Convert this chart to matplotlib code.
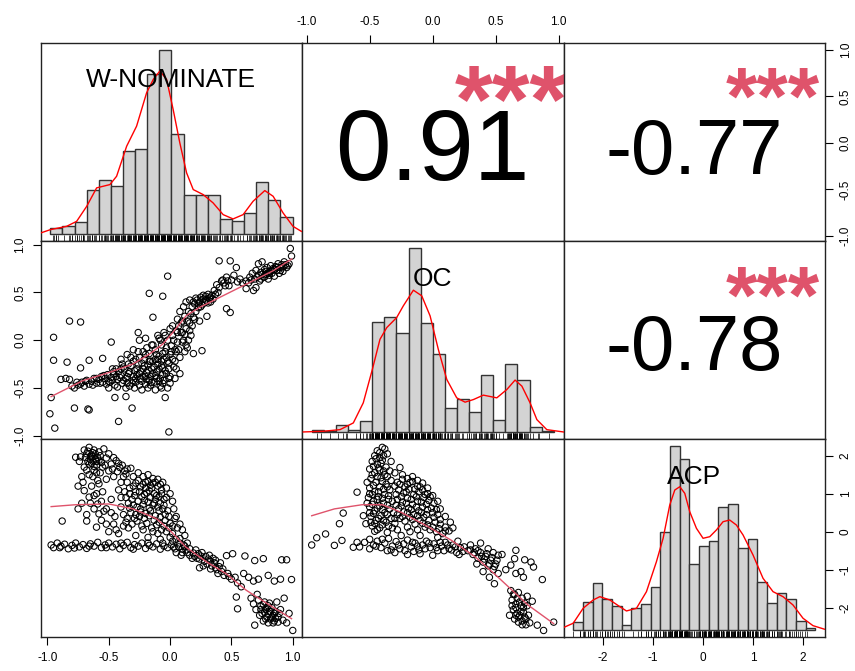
"""
Correlation matrix of three ideal-point estimates (W-NOMINATE, OC, ACP):
histograms with density on the diagonal, scatter + smoother below,
correlation coefficients with significance stars above.
"""

import matplotlib.pyplot as plt


plt.rcParams["font.family"] = ["Liberation Sans", "DejaVu Sans"]

# ---------------------------------------------------------------- data
var_names = ["W-NOMINATE", "OC", "ACP"]
corr_labels = {(0, 1): "0.91", (0, 2): "-0.77", (1, 2): "-0.78"}
signif = "***"

# histogram breaks and bar heights
w_breaks = [-1.0, -0.9, -0.8, -0.7, -0.6, -0.5, -0.4, -0.3, -0.2, -0.1, 0.0,
            0.1, 0.2, 0.3, 0.4, 0.5, 0.6, 0.7, 0.8, 0.9, 1.0]
w_heights = [5.7, 7.3, 11.3, 43.7, 54, 48, 83, 84.3, 159, 183.3,
             99, 38.7, 38.7, 38.7, 15, 13, 20.7, 51.7, 33.3, 16.7]
oc_breaks = [-1.0, -0.9, -0.8, -0.7, -0.6, -0.5, -0.4, -0.3, -0.2, -0.1, 0.0,
             0.1, 0.2, 0.3, 0.4, 0.5, 0.6, 0.7, 0.8, 0.9, 1.0]
oc_heights = [2, 1.3, 7, 2.3, 10.7, 110, 115, 99, 183, 109,
              77.3, 24.3, 33, 19.7, 56.7, 12, 67.7, 51.3, 5.3, 1.3]
acp_breaks = [-2.6, -2.4, -2.2, -2.0, -1.8, -1.6, -1.4, -1.2, -1.0, -0.8, -0.6,
              -0.4, -0.2, 0.0, 0.2, 0.4, 0.6, 0.8, 1.0, 1.2, 1.4, 1.6, 1.8,
              2.0, 2.2, 2.4]
acp_heights = [7.7, 28, 46.7, 31.3, 24, 5.3, 22.3, 26, 42.7, 98.3, 183.7,
               171, 65.7, 84, 89.3, 122.7, 126, 81.7, 91, 48.3, 26.7, 37.3,
               31.3, 9.3, 2.3]

# density curves (x, height in the same units as the bars)
w_dens_x = [-1.08, -1.0, -0.866, -0.783, -0.70, -0.618, -0.508, -0.453, -0.37,
            -0.288, -0.205, -0.15, -0.096, -0.04, 0.014, 0.069, 0.125, 0.18,
            0.262, 0.344, 0.427, 0.509, 0.592, 0.674, 0.771, 0.84, 0.922,
            1.004, 1.073]
w_dens_y = [0.7, 4, 7.3, 12.3, 27.3, 45.7, 49, 57.3, 87.3, 107.3, 140.7, 154,
            162.3, 154, 124, 90.7, 60.7, 44, 39, 30.7, 19, 14.7, 19, 32.3, 43,
            37.3, 20.7, 7.3, 2.3]
oc_dens_x = [-1.069, -0.904, -0.766, -0.656, -0.574, -0.499, -0.436, -0.38,
             -0.298, -0.243, -0.16, -0.091, -0.022, 0.046, 0.116, 0.198, 0.267,
             0.336, 0.418, 0.529, 0.612, 0.68, 0.736, 0.804, 0.86, 0.942, 1.079]
oc_dens_y = [0, 0.7, 2.3, 9, 29, 62.3, 92.3, 104, 114, 125.7, 141.3, 135.7,
             115.7, 82.3, 52.3, 34, 29.7, 32.3, 36.7, 34, 42.3, 51.7, 45.7, 29,
             12.3, 2.3, 0]
acp_dens_x = [-2.806, -2.6, -2.394, -2.187, -2.05, -1.843, -1.637, -1.5, -1.293,
              -1.087, -0.881, -0.743, -0.606, -0.502, -0.399, -0.296, -0.193,
              -0.055, 0.082, 0.22, 0.357, 0.495, 0.632, 0.77, 0.908, 1.114,
              1.32, 1.527, 1.733, 1.939, 2.146, 2.352, 2.593]
acp_dens_y = [2.3, 6.7, 21.7, 30, 33.3, 30, 23.3, 19, 21.7, 38.3, 68.3, 91.7,
              125, 140, 143.3, 136.7, 118.3, 101.7, 91.7, 93.3, 100, 108.3, 110,
              105, 95, 75, 51.7, 38.3, 33.3, 25, 11.7, 4.3, 0.7]

# scatter points: (W-NOMINATE, OC)
w_oc_points = [
    (-0.98, -0.77), (-0.94, -0.92), (-0.97, -0.60), (-0.95, 0.03), (-0.95, -0.21),
    (-0.82, 0.20), (-0.73, 0.19), (-0.84, -0.23), (-0.89, -0.41), (-0.85, -0.40),
    (-0.82, -0.41), (-0.73, -0.29), (-0.66, -0.21), (-0.78, -0.71), (-0.67, -0.72),
    (-0.66, -0.73), (-0.55, -0.19), (-0.48, -0.02), (-0.42, -0.85), (-0.31, -0.71),
    (-0.45, -0.60), (-0.36, -0.59), (-0.04, -0.60), (-0.01, -0.96), (-0.02, 0.67),
    (-0.17, 0.49), (-0.06, 0.46), (-0.14, 0.24), (-0.26, 0.08),
    (-0.78, -0.50), (-0.75, -0.47), (-0.72, -0.44), (-0.70, -0.48), (-0.68, -0.42),
    (-0.66, -0.46), (-0.64, -0.43), (-0.62, -0.40), (-0.60, -0.45), (-0.58, -0.41),
    (-0.56, -0.38), (-0.55, -0.44), (-0.53, -0.40), (-0.51, -0.36), (-0.50, -0.43),
    (-0.48, -0.39), (-0.46, -0.35), (-0.45, -0.47), (-0.43, -0.41), (-0.42, -0.33),
    (-0.40, -0.37), (-0.39, -0.45), (-0.37, -0.30), (-0.36, -0.40), (-0.34, -0.35),
    (-0.33, -0.48), (-0.32, -0.27), (-0.30, -0.38), (-0.29, -0.32), (-0.28, -0.44),
    (-0.26, -0.25), (-0.25, -0.35), (-0.24, -0.40), (-0.22, -0.30), (-0.21, -0.20),
    (-0.20, -0.46), (-0.19, -0.34), (-0.18, -0.26), (-0.17, -0.14), (-0.16, -0.38),
    (-0.15, -0.30), (-0.14, -0.22), (-0.13, -0.44), (-0.12, -0.10), (-0.11, -0.33),
    (-0.10, -0.25), (-0.09, -0.17), (-0.08, -0.40), (-0.07, -0.05), (-0.06, -0.29),
    (-0.05, -0.20), (-0.04, -0.12), (-0.03, -0.35), (-0.02, 0.00), (-0.01, -0.24),
    (0.00, -0.15), (0.01, -0.06), (0.02, 0.05), (0.03, -0.28), (0.04, -0.10),
    (0.05, 0.10), (0.06, -0.02), (0.07, 0.15), (0.08, -0.18), (0.09, 0.08),
    (0.10, 0.20), (0.11, 0.00), (0.12, 0.25), (0.13, 0.12), (0.14, -0.08),
    (0.15, 0.30), (0.16, 0.18), (0.17, 0.05), (0.18, 0.35), (0.19, 0.24),
    (0.20, 0.38), (0.21, 0.30), (0.22, 0.42), (0.23, 0.34), (0.24, 0.40),
    (0.25, 0.45), (0.26, 0.37), (0.27, 0.43), (0.28, 0.39), (0.29, 0.46),
    (0.30, 0.41), (0.31, 0.48), (0.32, 0.44), (0.33, 0.40), (0.34, 0.47),
    (0.36, 0.52), (0.38, 0.58), (0.40, 0.55), (0.42, 0.62), (0.44, 0.60),
    (0.46, 0.66), (0.48, 0.57), (0.50, 0.63), (0.52, 0.68), (0.55, 0.61),
    (0.40, 0.83), (0.49, 0.83), (0.54, 0.76), (0.49, 0.29), (0.46, 0.33),
    (0.26, -0.11), (0.19, -0.14), (0.13, -0.05), (0.24, 0.20), (0.30, 0.25),
    (0.62, 0.62), (0.65, 0.66), (0.67, 0.70), (0.69, 0.64), (0.70, 0.73),
    (0.72, 0.68), (0.73, 0.62), (0.74, 0.71), (0.76, 0.66), (0.77, 0.74),
    (0.78, 0.69), (0.79, 0.76), (0.80, 0.64), (0.81, 0.72), (0.82, 0.78),
    (0.83, 0.70), (0.84, 0.75), (0.85, 0.67), (0.86, 0.77), (0.87, 0.73),
    (0.88, 0.80), (0.89, 0.70), (0.90, 0.76), (0.91, 0.79), (0.92, 0.72),
    (0.93, 0.82), (0.95, 0.76), (0.97, 0.80), (0.98, 0.96), (0.99, 0.88),
    (0.75, 0.82), (0.72, 0.80), (0.70, 0.55), (0.68, 0.52), (0.62, 0.54),
    (-0.35, -0.45), (-0.30, -0.42), (-0.27, -0.36), (-0.23, -0.43), (-0.20, -0.38),
    (-0.17, -0.42), (-0.14, -0.35), (-0.11, -0.40), (-0.09, -0.30), (-0.06, -0.36),
    (-0.03, -0.18), (-0.01, -0.30), (0.02, -0.20), (-0.19, -0.08), (-0.25, -0.18),
    (-0.30, -0.22), (-0.38, -0.28), (-0.44, -0.30), (-0.10, 0.05), (-0.05, 0.08),
    (0.00, 0.12),
]
w_oc_points_dense = [
    (-0.52, -0.46), (-0.49, -0.44), (-0.47, -0.42), (-0.44, -0.38), (-0.41, -0.39),
    (-0.38, -0.42), (-0.35, -0.38), (-0.33, -0.33), (-0.31, -0.45), (-0.28, -0.40),
    (-0.27, -0.30), (-0.24, -0.33), (-0.22, -0.38), (-0.21, -0.27), (-0.19, -0.41),
    (-0.18, -0.31), (-0.16, -0.22), (-0.15, -0.44), (-0.13, -0.28), (-0.12, -0.37),
    (-0.10, -0.20), (-0.09, -0.43), (-0.07, -0.27), (-0.06, -0.14), (-0.04, -0.32),
    (-0.03, -0.08), (-0.02, -0.22), (0.00, -0.38), (0.01, -0.12), (0.03, 0.00),
    (0.04, -0.22), (0.06, 0.08), (0.07, -0.10), (0.09, 0.18), (0.10, -0.02),
    (0.12, 0.06), (0.14, 0.20), (0.16, 0.10), (0.17, 0.28), (0.19, 0.40),
    (0.21, 0.44), (0.23, 0.38), (0.25, 0.35), (0.27, 0.47), (0.29, 0.42),
    (0.31, 0.39), (0.33, 0.45), (0.35, 0.43), (0.37, 0.48), (0.39, 0.50),
    (-0.60, -0.40), (-0.57, -0.45), (-0.54, -0.37), (-0.63, -0.47), (-0.69, -0.43),
    (-0.73, -0.46), (-0.76, -0.44), (-0.80, -0.48), (-0.25, -0.47), (-0.16, -0.47),
    (-0.08, -0.48), (-0.11, -0.15), (-0.14, -0.05), (-0.08, 0.00), (-0.22, -0.12),
    (-0.28, -0.20), (-0.34, -0.25), (-0.40, -0.30), (-0.46, -0.33), (-0.06, -0.45),
    (0.00, -0.45), (0.05, -0.30), (0.08, -0.35), (-0.20, 0.02),
    (0.64, 0.60), (0.66, 0.63), (0.71, 0.66), (0.75, 0.69), (0.78, 0.72),
    (0.80, 0.70), (0.83, 0.73), (0.85, 0.74), (0.87, 0.76), (0.90, 0.73),
    (0.92, 0.77), (0.94, 0.79), (0.96, 0.78), (0.74, 0.64), (0.77, 0.66),
    (0.81, 0.68), (0.57, 0.64), (0.59, 0.60), (0.45, 0.57), (0.43, 0.63),
    (0.47, 0.62),
    (-0.50, -0.50), (-0.47, -0.30), (-0.43, -0.49), (-0.39, -0.25), (-0.36, -0.50),
    (-0.32, -0.18), (-0.29, -0.50), (-0.26, -0.12), (-0.23, -0.52), (-0.20, -0.15),
    (-0.18, -0.50), (-0.15, -0.05), (-0.12, -0.52), (-0.09, 0.02), (-0.07, -0.50),
    (-0.04, 0.05), (-0.02, -0.50), (0.02, 0.15), (0.04, -0.40), (0.06, 0.22),
    (0.08, 0.30), (0.11, 0.35), (0.13, 0.40), (0.16, 0.42), (-0.25, 0.00),
    (-0.30, -0.10), (-0.35, -0.15), (-0.40, -0.20), (-0.12, -0.20), (-0.17, -0.22),
    (-0.23, -0.24), (-0.07, -0.22), (-0.05, -0.42), (-0.01, -0.40), (0.05, -0.12),
    (0.10, 0.08), (0.12, -0.12), (0.15, 0.00), (0.18, 0.15), (0.20, 0.22),
]

# scatter points: (W-NOMINATE, ACP)
w_acp_points = [
    (-0.77, 1.96), (-0.73, 1.97), (-0.66, 2.22), (-0.62, 2.15), (-0.54, 2.18),
    (-0.52, 1.94), (-0.44, 1.87), (-0.41, 1.69), (-0.32, 1.67), (-0.36, 1.52),
    (-0.68, 2.05), (-0.65, 1.98), (-0.63, 2.08), (-0.61, 1.92), (-0.67, 1.85),
    (-0.64, 1.80), (-0.60, 1.75), (-0.58, 1.88), (-0.70, 1.70), (-0.62, 1.62),
    (-0.57, 1.55), (-0.55, 1.70), (-0.50, 1.60), (-0.48, 1.78), (-0.46, 1.45),
    (-0.52, 1.38), (-0.59, 1.35), (-0.66, 1.50), (-0.71, 1.30), (-0.64, 1.20),
    (-0.58, 1.26), (-0.70, 1.08), (-0.66, 0.91), (-0.75, 0.60), (-0.88, 0.28),
    (-0.68, 0.28), (-0.58, 0.47), (-0.54, 0.54), (-0.59, 0.73), (-0.60, 0.12),
    (-0.72, 0.75), (-0.62, 0.95), (-0.55, 1.05), (-0.68, 0.45), (-0.52, 0.20),
    (-0.48, 0.85), (-0.45, 0.40), (-0.42, 1.10), (-0.40, 0.65), (-0.44, 0.05),
    (-0.35, 1.30), (-0.30, 1.20), (-0.26, 1.35), (-0.22, 1.25), (-0.18, 1.32),
    (-0.14, 1.28), (-0.10, 1.20), (-0.07, 1.10), (-0.33, 1.00), (-0.29, 0.95),
    (-0.25, 1.05), (-0.21, 0.98), (-0.17, 1.08), (-0.13, 1.00), (-0.09, 0.92),
    (-0.05, 0.85), (-0.34, 0.75), (-0.30, 0.70), (-0.26, 0.80), (-0.22, 0.72),
    (-0.18, 0.78), (-0.14, 0.70), (-0.10, 0.65), (-0.06, 0.60), (-0.02, 0.55),
    (-0.32, 0.50), (-0.28, 0.45), (-0.24, 0.52), (-0.20, 0.48), (-0.16, 0.55),
    (-0.12, 0.42), (-0.08, 0.38), (-0.04, 0.30), (0.00, 0.22), (-0.36, 0.25),
    (-0.31, 0.20), (-0.27, 0.28), (-0.23, 0.15), (-0.19, 0.22), (-0.15, 0.10),
    (-0.11, 0.18), (-0.07, 0.05), (-0.03, 0.00), (0.02, -0.05), (-0.20, 1.15),
    (-0.16, 0.90), (-0.12, 0.85), (-0.24, 0.60), (-0.08, 0.75), (-0.04, 0.45),
    (-0.97, -0.35), (-0.95, -0.42), (-0.92, -0.30), (-0.89, -0.38), (-0.86, -0.33),
    (-0.83, -0.45), (-0.80, -0.36), (-0.77, -0.30), (-0.74, -0.40), (-0.71, -0.34),
    (-0.68, -0.44), (-0.65, -0.32), (-0.62, -0.38), (-0.59, -0.28), (-0.56, -0.42),
    (-0.53, -0.35), (-0.50, -0.30), (-0.47, -0.40), (-0.44, -0.33), (-0.41, -0.45),
    (-0.38, -0.36), (-0.35, -0.28), (-0.32, -0.42), (-0.29, -0.34), (-0.26, -0.38),
    (-0.23, -0.30), (-0.20, -0.44), (-0.17, -0.36), (-0.14, -0.40), (-0.11, -0.32),
    (-0.08, -0.46), (-0.05, -0.38), (-0.02, -0.42), (0.01, -0.35),
    (0.04, -0.45), (0.07, -0.40), (0.10, -0.55), (0.13, -0.48), (0.16, -0.62),
    (0.19, -0.56), (0.22, -0.70), (0.25, -0.64), (0.28, -0.78), (0.31, -0.72),
    (0.34, -0.90), (0.36, -0.82), (0.38, -1.00), (0.40, -0.92), (0.42, -1.05),
    (0.44, -1.15), (0.47, -1.10), (0.50, -1.25), (0.53, -1.20), (0.55, -1.35),
    (0.46, -0.63), (0.51, -0.58), (0.61, -0.64), (0.69, -0.76), (0.76, -0.71),
    (0.91, -0.74), (0.95, -0.74), (0.99, -1.26), (0.60, -1.10), (0.64, -1.20),
    (0.68, -1.30), (0.72, -1.25), (0.80, -1.15), (0.85, -1.30), (0.90, -1.25),
    (0.58, -1.45), (0.54, -1.72), (0.55, -2.03),
    (0.66, -1.75), (0.68, -1.90), (0.70, -2.05), (0.72, -1.80), (0.74, -1.95),
    (0.75, -2.15), (0.77, -1.85), (0.78, -2.05), (0.79, -2.25), (0.80, -1.95),
    (0.81, -2.10), (0.82, -2.30), (0.83, -2.00), (0.84, -2.20), (0.85, -2.35),
    (0.86, -2.10), (0.88, -2.25), (0.90, -2.05), (0.92, -2.33), (0.76, -2.35),
    (0.73, -2.20), (0.69, -2.46), (1.00, -2.60), (0.95, -2.40), (0.97, -2.15),
    (0.71, -1.65), (0.87, -1.85), (0.93, -1.75),
]
w_acp_points_dense = [
    (-0.69, 1.95), (-0.67, 2.12), (-0.65, 1.90), (-0.63, 1.97), (-0.61, 2.05),
    (-0.60, 1.85), (-0.64, 2.02), (-0.66, 1.78), (-0.62, 1.72), (-0.59, 1.95),
    (-0.57, 2.00), (-0.56, 1.82), (-0.53, 1.75), (-0.68, 1.62), (-0.63, 1.45),
    (-0.60, 1.55), (-0.47, 1.65), (-0.43, 1.58), (-0.39, 1.75), (-0.37, 1.60),
    (-0.33, 1.15), (-0.28, 1.28), (-0.24, 1.18), (-0.20, 1.30), (-0.16, 1.22),
    (-0.12, 1.30), (-0.08, 1.25), (-0.28, 1.05), (-0.23, 0.92), (-0.19, 1.02),
    (-0.15, 1.15), (-0.11, 0.95), (-0.07, 1.00), (-0.03, 0.90), (-0.31, 0.85),
    (-0.27, 0.65), (-0.21, 0.82), (-0.17, 0.62), (-0.13, 0.75), (-0.09, 0.55),
    (-0.05, 0.70), (-0.01, 0.40), (-0.29, 0.35), (-0.25, 0.40), (-0.21, 0.35),
    (-0.17, 0.42), (-0.13, 0.30), (-0.09, 0.25), (-0.05, 0.15), (-0.01, 0.10),
    (-0.34, 0.10), (-0.22, 0.05), (-0.14, 0.00), (-0.10, -0.05), (0.02, 0.15),
    (0.00, -0.15), (0.05, -0.20), (-0.38, 0.45), (-0.36, 0.90), (-0.40, 1.30),
    (-0.90, -0.42), (-0.78, -0.43), (-0.66, -0.38), (-0.52, -0.42), (-0.40, -0.30),
    (-0.30, -0.46), (-0.18, -0.30), (-0.06, -0.30), (0.03, -0.40), (0.10, -0.45),
    (0.14, -0.55), (0.20, -0.65), (0.24, -0.72), (0.30, -0.85), (0.33, -0.78),
    (0.37, -0.95), (0.43, -0.98), (0.48, -1.18),
    (0.74, -2.05), (0.77, -2.12), (0.79, -2.00), (0.80, -2.18), (0.82, -2.10),
    (0.83, -2.25), (0.85, -2.15), (0.86, -2.28), (0.78, -2.30), (0.76, -1.92),
    (0.81, -1.88), (0.84, -2.40), (0.88, -2.38), (0.89, -2.15), (0.80, -2.40),
    (-0.75, 1.20), (-0.72, 1.45), (-0.74, 1.85), (-0.70, 2.15), (-0.58, 2.10),
    (-0.50, 2.05), (-0.46, 1.95), (-0.42, 1.80), (-0.38, 1.45), (-0.35, 1.65),
    (-0.30, 1.45), (-0.26, 1.55), (-0.22, 1.45), (-0.18, 1.50), (-0.14, 1.40),
    (-0.10, 1.38), (-0.06, 1.30), (-0.03, 1.15), (0.00, 1.00), (0.02, 0.80),
    (0.03, 0.60), (0.04, 0.35), (0.06, 0.10), (-0.37, 1.05), (-0.33, 0.62),
    (-0.35, 0.35), (-0.38, 0.15), (-0.42, -0.05), (-0.50, 0.00), (-0.56, 0.30),
    (-0.62, 0.60), (-0.65, 0.75), (-0.60, 1.00), (-0.56, 0.80), (-0.52, 0.60),
    (-0.48, 0.50), (-0.46, 0.20), (-0.40, 0.90), (-0.28, -0.10), (-0.18, -0.15),
    (-0.08, -0.20), (0.08, -0.30), (0.12, -0.38),
    (0.02, -0.25), (0.05, -0.55), (0.08, -0.18), (0.11, -0.35), (0.14, -0.30),
    (0.16, -0.45), (0.18, -0.70), (0.21, -0.48), (0.23, -0.58), (0.26, -0.55),
    (0.27, -0.90), (0.29, -0.65), (0.32, -0.62), (0.33, -0.98), (0.35, -0.70),
    (0.37, -0.75), (0.39, -1.10), (0.41, -0.82), (0.05, 0.40), (0.08, 0.20),
    (0.10, 0.05), (0.12, -0.10), (0.09, -0.62), (0.24, -0.95),
]

# scatter points: (OC, ACP)
oc_acp_points = [
    (-0.40, 2.22), (-0.44, 2.13), (-0.38, 2.18), (-0.46, 2.00), (-0.42, 1.95),
    (-0.36, 2.05), (-0.48, 1.85), (-0.44, 1.78), (-0.40, 1.88), (-0.37, 1.70),
    (-0.50, 1.65), (-0.46, 1.55), (-0.42, 1.62), (-0.38, 1.50), (-0.34, 1.60),
    (-0.49, 1.40), (-0.45, 1.30), (-0.41, 1.42), (-0.37, 1.25), (-0.33, 1.35),
    (-0.50, 1.15), (-0.46, 1.05), (-0.42, 1.18), (-0.38, 0.98), (-0.34, 1.10),
    (-0.51, 0.90), (-0.47, 0.80), (-0.43, 0.92), (-0.39, 0.75), (-0.35, 0.85),
    (-0.50, 0.65), (-0.46, 0.55), (-0.42, 0.68), (-0.38, 0.50), (-0.34, 0.60),
    (-0.49, 0.40), (-0.45, 0.30), (-0.41, 0.42), (-0.37, 0.25), (-0.33, 0.35),
    (-0.48, 0.15), (-0.44, 0.05), (-0.40, 0.18), (-0.36, -0.02), (-0.32, 0.10),
    (-0.26, 1.69), (-0.16, 1.45), (-0.28, 1.30), (-0.24, 1.38), (-0.20, 1.25),
    (-0.16, 1.32), (-0.12, 1.20), (-0.08, 1.10), (-0.04, 1.00), (-0.27, 1.10),
    (-0.23, 1.02), (-0.19, 1.12), (-0.15, 0.98), (-0.11, 1.05), (-0.07, 0.90),
    (-0.03, 0.82), (0.01, 0.75), (-0.28, 0.85), (-0.24, 0.78), (-0.20, 0.88),
    (-0.16, 0.72), (-0.12, 0.80), (-0.08, 0.65), (-0.04, 0.58), (0.00, 0.50),
    (0.04, 0.45), (-0.27, 0.60), (-0.23, 0.52), (-0.19, 0.62), (-0.15, 0.45),
    (-0.11, 0.55), (-0.07, 0.38), (-0.03, 0.30), (0.02, 0.25), (0.06, 0.20),
    (0.10, 0.12), (-0.26, 0.35), (-0.22, 0.28), (-0.18, 0.38), (-0.14, 0.20),
    (-0.10, 0.30), (-0.06, 0.12), (-0.02, 0.05), (0.03, 0.00), (0.08, -0.05),
    (0.13, 0.02),
    (-0.78, -0.36), (-0.72, -0.23), (-0.63, -0.41), (-0.60, -0.28), (-0.54, -0.28),
    (-0.50, -0.20), (-0.47, -0.35), (-0.44, -0.25), (-0.41, -0.42), (-0.38, -0.30),
    (-0.35, -0.18), (-0.32, -0.38), (-0.29, -0.26), (-0.26, -0.45), (-0.23, -0.32),
    (-0.20, -0.22), (-0.17, -0.40), (-0.14, -0.30), (-0.11, -0.48), (-0.08, -0.35),
    (-0.05, -0.25), (-0.02, -0.42), (0.01, -0.32), (0.04, -0.50), (0.07, -0.38),
    (0.10, -0.28), (0.13, -0.45), (0.16, -0.35), (0.19, -0.55), (0.22, -0.42),
    (-0.30, -0.55), (-0.20, -0.60), (-0.10, -0.58), (0.00, -0.62),
    (-0.96, -0.35), (-0.92, -0.16), (-0.85, -0.06), (-0.74, 0.21), (-0.71, 0.49),
    (-0.60, 1.04), (-0.55, 0.42), (-0.53, 0.21), (-0.46, 0.01),
    (0.25, -0.40), (0.28, -0.50), (0.30, -0.35), (0.32, -0.60), (0.34, -0.45),
    (0.36, -0.70), (0.38, -0.55), (0.40, -0.80), (0.42, -0.65), (0.44, -0.90),
    (0.46, -0.75), (0.48, -1.00), (0.50, -0.85), (0.52, -1.10), (0.35, -0.85),
    (0.40, -1.05), (0.45, -1.20), (0.49, -1.37), (0.38, -0.30), (0.44, -0.45),
    (0.48, -0.55), (0.52, -0.62),
    (0.65, -0.71), (0.66, -0.49), (0.73, -0.74), (0.78, -0.80), (0.80, -0.93),
    (0.87, -1.26), (0.62, -0.88), (0.58, -1.00), (0.66, -1.10), (0.70, -1.05),
    (0.72, -1.20), (0.55, -0.60),
    (0.62, -1.55), (0.65, -1.65), (0.68, -1.60), (0.71, -1.75), (0.63, -1.80),
    (0.66, -1.90), (0.69, -1.85), (0.72, -2.00), (0.75, -1.95), (0.64, -2.05),
    (0.67, -2.15), (0.70, -2.10), (0.73, -2.25), (0.76, -2.20), (0.65, -2.30),
    (0.68, -2.38), (0.71, -2.35), (0.74, -2.45), (0.77, -2.40), (0.79, -1.83),
    (0.83, -2.46), (0.88, -2.60), (0.96, -2.38), (0.75, -1.70), (0.61, -2.20),
]
oc_acp_points_dense = [
    (-0.42, 2.08), (-0.39, 2.00), (-0.45, 1.92), (-0.41, 1.80), (-0.47, 1.72),
    (-0.43, 1.68), (-0.39, 1.60), (-0.36, 1.45), (-0.48, 1.50), (-0.44, 1.45),
    (-0.40, 1.32), (-0.36, 1.18), (-0.47, 1.22), (-0.43, 1.05), (-0.39, 1.12),
    (-0.35, 0.95), (-0.48, 0.98), (-0.44, 0.85), (-0.40, 0.88), (-0.36, 0.70),
    (-0.48, 0.72), (-0.44, 0.62), (-0.40, 0.58), (-0.36, 0.45), (-0.47, 0.48),
    (-0.43, 0.35), (-0.39, 0.30), (-0.35, 0.15), (-0.46, 0.22), (-0.42, 0.10),
    (-0.30, 1.20), (-0.26, 1.25), (-0.22, 1.18), (-0.18, 1.30), (-0.14, 1.12),
    (-0.10, 1.18), (-0.06, 0.98), (-0.02, 0.92), (-0.29, 0.98), (-0.25, 0.92),
    (-0.21, 1.05), (-0.17, 0.85), (-0.13, 0.92), (-0.09, 0.78), (-0.05, 0.72),
    (-0.01, 0.62), (0.03, 0.58), (-0.29, 0.70), (-0.25, 0.68), (-0.21, 0.75),
    (-0.17, 0.58), (-0.13, 0.65), (-0.09, 0.50), (-0.05, 0.45), (0.01, 0.38),
    (0.06, 0.32), (-0.28, 0.45), (-0.24, 0.40), (-0.20, 0.50), (-0.16, 0.32),
    (-0.12, 0.42), (-0.08, 0.22), (-0.04, 0.18), (0.00, 0.12), (0.05, 0.08),
    (0.10, 0.02), (-0.30, 0.22), (-0.20, 0.12), (-0.12, 0.05), (-0.28, 0.05),
    (-0.45, -0.38), (-0.40, -0.20), (-0.33, -0.48), (-0.27, -0.35), (-0.22, -0.50),
    (-0.16, -0.28), (-0.12, -0.38), (-0.06, -0.45), (-0.03, -0.30), (0.03, -0.42),
    (0.06, -0.28), (0.09, -0.50), (0.12, -0.35), (0.15, -0.48), (0.18, -0.40),
    (0.21, -0.60), (0.24, -0.52),
    (0.30, -0.48), (0.33, -0.55), (0.36, -0.50), (0.39, -0.65), (0.41, -0.72),
    (0.43, -0.58), (0.45, -0.85), (0.47, -0.68), (0.49, -0.92), (0.51, -0.75),
    (0.63, -1.95), (0.66, -2.00), (0.69, -2.20), (0.72, -2.12), (0.74, -2.30),
    (0.66, -2.20), (0.70, -1.95), (0.67, -1.75), (0.64, -1.65), (0.71, -2.45),
    (0.68, -2.25), (0.73, -1.88),
    (-0.52, 1.30), (-0.50, 1.00), (-0.52, 0.75), (-0.50, 0.50), (-0.49, 0.25),
    (-0.33, 1.85), (-0.30, 1.55), (-0.32, 0.80), (-0.31, 0.50), (-0.30, 0.35),
    (-0.24, 1.50), (-0.20, 1.40), (-0.12, 1.35), (-0.08, 1.28), (-0.04, 1.15),
    (0.00, 0.95), (0.04, 0.80), (0.06, 0.60), (0.10, 0.40), (0.14, 0.25),
    (0.16, 0.10), (-0.18, 0.00), (-0.10, -0.10), (-0.25, -0.10), (0.04, -0.15),
    (0.20, -0.25), (-0.58, -0.40), (-0.50, -0.45), (-0.36, -0.50), (-0.15, -0.52),
]

# smoother lines
w_oc_smooth_x = [-0.97, -0.713, -0.495, -0.304, -0.168, -0.059, 0.023, 0.132,
                 0.241, 0.378, 0.514, 0.678, 0.842, 0.992]
w_oc_smooth_y = [-0.59, -0.424, -0.337, -0.25, -0.145, -0.04, 0.082, 0.257,
                 0.344, 0.431, 0.518, 0.623, 0.728, 0.85]
w_acp_smooth_x = [-0.97, -0.77, -0.50, -0.30, -0.11, 0.0, 0.13, 0.30, 0.46,
                  0.62, 0.79, 0.99]
w_acp_smooth_y = [0.66, 0.71, 0.73, 0.60, 0.34, 0.03, -0.41, -0.80, -1.11,
                  -1.54, -1.89, -2.29]
oc_acp_smooth_x = [-0.96, -0.78, -0.56, -0.40, -0.25, -0.03, 0.15, 0.34, 0.49,
                   0.63, 0.76, 0.96]
oc_acp_smooth_y = [0.42, 0.60, 0.71, 0.71, 0.51, 0.12, -0.23, -0.67, -1.11,
                   -1.54, -1.94, -2.42]

# pairs-plot axis limits and ticks per variable
var_lims = [(-1.055, 1.077), (-1.037, 1.038), (-2.78, 2.44)]
var_ticks = [[-1.0, -0.5, 0.0, 0.5, 1.0], [-1.0, -0.5, 0.0, 0.5, 1.0],
             [-2, -1, 0, 1, 2]]
var_ticklabels = [["-1.0", "-0.5", "0.0", "0.5", "1.0"],
                  ["-1.0", "-0.5", "0.0", "0.5", "1.0"],
                  ["-2", "-1", "0", "1", "2"]]

# ---------------------------------------------------------------- layout
FIG_W, FIG_H = 855, 671
COL_LEFT = [40.7, 302.0, 563.5]
ROW_TOP = [42.7, 241.0, 439.0]
PANEL_W, PANEL_H = 261.5, 198.3

HIST_FACE = "#D3D3D3"
SMOOTH_COL = "#DF536B"
STAR_COL = "#DF536B"


def panel_rect(row, col):
    x0 = COL_LEFT[col] / FIG_W
    y0 = 1 - (ROW_TOP[row] + PANEL_H) / FIG_H
    return [x0, y0, PANEL_W / FIG_W, PANEL_H / FIG_H]


def style_ticks(ax):
    ax.tick_params(length=5.5, width=0.8, pad=5, labelsize=8.5,
                   colors="black")


def draw_hist(fig, rect, breaks, heights, dens_x, dens_y, rug_vals, label):
    ax = fig.add_axes(rect, frameon=False)
    width = breaks[1] - breaks[0]
    span = breaks[-1] - breaks[0]
    ax.bar(breaks[:-1], heights, width=width, align="edge", color=HIST_FACE,
           edgecolor="#333333", linewidth=1.0)
    ax.plot(dens_x, dens_y, color="red", linewidth=1.0)
    ax.vlines(rug_vals, 0, 0.03, transform=ax.get_xaxis_transform(),
              colors="black", linewidth=0.5)
    top = max(heights)
    ax.set_xlim(breaks[0] - 0.04 * span, breaks[-1] + 0.04 * span)
    ax.set_ylim(-0.04 * top, 1.04 * top)
    ax.set_xticks([])
    ax.set_yticks([])
    ax.text(0.5, 0.775, label, transform=ax.transAxes, ha="center",
            va="baseline", fontsize=19, zorder=5)
    return ax


def draw_scatter(ax, points, sx, sy):
    xs = [p[0] for p in points]
    ys = [p[1] for p in points]
    ax.scatter(xs, ys, s=21, facecolors="none", edgecolors="black",
               linewidths=0.75, zorder=2)
    ax.plot(sx, sy, color=SMOOTH_COL, linewidth=1.0, zorder=3)


def main():
    fig = plt.figure(figsize=(FIG_W / 100, FIG_H / 100), dpi=100)

    axes = {}
    for r in range(3):
        for c in range(3):
            ax = fig.add_axes(panel_rect(r, c))
            ax.set_xlim(*var_lims[c])
            ax.set_ylim(*var_lims[r])
            ax.set_xticks([])
            ax.set_yticks([])
            for sp in ax.spines.values():
                sp.set_linewidth(1.0)
                sp.set_color("#222222")
            axes[(r, c)] = ax

    # outer axes, R pairs style (alternating sides)
    ax = axes[(0, 1)]
    ax.set_xticks(var_ticks[1], var_ticklabels[1])
    ax.xaxis.set_ticks_position("top")
    style_ticks(ax)

    ax = axes[(1, 0)]
    ax.set_yticks(var_ticks[1], var_ticklabels[1], rotation=90, va="center")
    style_ticks(ax)

    ax = axes[(0, 2)]
    ax.yaxis.set_ticks_position("right")
    ax.set_yticks(var_ticks[0], var_ticklabels[0], rotation=90, va="center")
    style_ticks(ax)

    ax = axes[(2, 0)]
    ax.set_xticks(var_ticks[0], var_ticklabels[0])
    style_ticks(ax)

    ax = axes[(2, 2)]
    ax.set_xticks(var_ticks[2], var_ticklabels[2])
    ax.yaxis.set_ticks_position("right")
    ax.set_yticks(var_ticks[2], var_ticklabels[2], rotation=90, va="center")
    style_ticks(ax)

    w_oc_all = w_oc_points + w_oc_points_dense
    w_acp_all = w_acp_points + w_acp_points_dense
    oc_acp_all = oc_acp_points + oc_acp_points_dense

    # diagonal: histograms with density and rug
    w_vals = [p[0] for p in w_oc_all]
    oc_vals = [p[0] for p in oc_acp_all]
    acp_vals = [p[1] for p in oc_acp_all]
    draw_hist(fig, panel_rect(0, 0), w_breaks, w_heights, w_dens_x, w_dens_y,
              w_vals, var_names[0])
    draw_hist(fig, panel_rect(1, 1), oc_breaks, oc_heights, oc_dens_x,
              oc_dens_y, oc_vals, var_names[1])
    draw_hist(fig, panel_rect(2, 2), acp_breaks, acp_heights, acp_dens_x,
              acp_dens_y, acp_vals, var_names[2])

    # lower panels: scatter with smoother
    draw_scatter(axes[(1, 0)], w_oc_all, w_oc_smooth_x, w_oc_smooth_y)
    draw_scatter(axes[(2, 0)], w_acp_all, w_acp_smooth_x, w_acp_smooth_y)
    draw_scatter(axes[(2, 1)], oc_acp_all, oc_acp_smooth_x, oc_acp_smooth_y)

    # upper panels: correlation + stars
    num_size = {(0, 1): 72, (0, 2): 56, (1, 2): 56}
    num_base = {(0, 1): 0.308, (0, 2): 0.338, (1, 2): 0.348}
    star_size = {(0, 1): 70, (0, 2): 58, (1, 2): 58}
    star_base = {(0, 1): 0.55, (0, 2): 0.59, (1, 2): 0.59}
    for key, txt in corr_labels.items():
        ax = axes[key]
        ax.text(0.5, num_base[key], txt, transform=ax.transAxes, ha="center",
                va="baseline", fontsize=num_size[key])
        ax.text(0.8, star_base[key], signif, transform=ax.transAxes,
                ha="center", va="baseline", fontsize=star_size[key],
                fontweight="bold", color=STAR_COL, clip_on=True)

    fig.savefig("out.png", dpi=100)


if __name__ == "__main__":
    main()
